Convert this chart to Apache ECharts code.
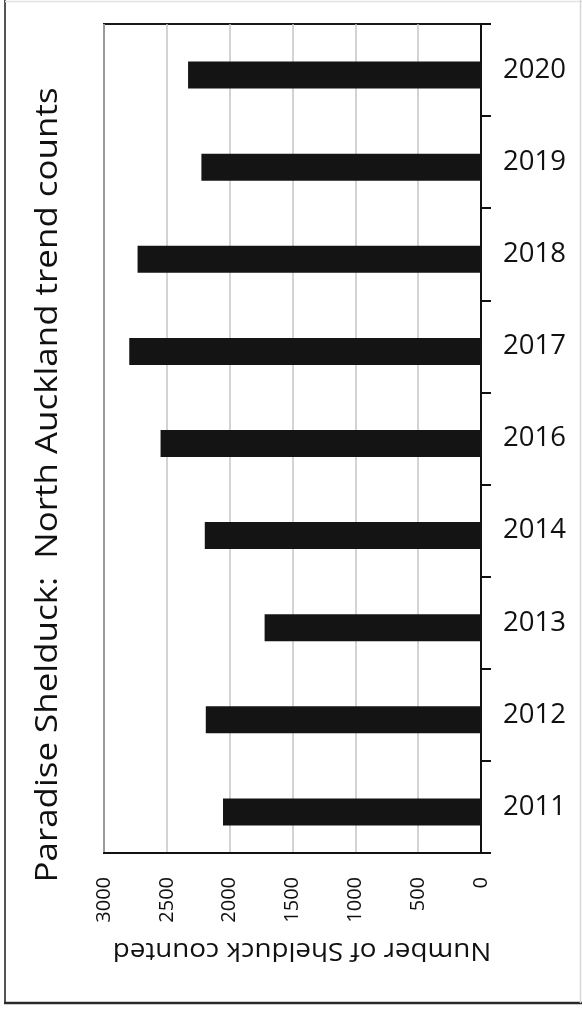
<!DOCTYPE html>
<html>
<head>
<meta charset="utf-8">
<script src="https://cdn.jsdelivr.net/npm/echarts@6/dist/echarts.min.js"></script>
<style>
html,body{margin:0;padding:0;background:#fff;}
#chart{width:582px;height:1016px;}
</style>
</head>
<body>
<div id="chart"></div>
<script>
var years = ['2011', '2012', '2013', '2014', '2016', '2017', '2018', '2019', '2020'];
var counts = [2053, 2190, 1722, 2198, 2550, 2799, 2733, 2225, 2331];
var valueTicks = [0, 500, 1000, 1500, 2000, 2500, 3000];
var titleText = 'Paradise Shelduck:  North Auckland trend counts';
var axisNameText = 'Number of Shelduck counted';

var FONT = '"Open Sans", "Noto Sans", sans-serif';
var chart = echarts.init(document.getElementById('chart'), null, {renderer: 'canvas'});

var option = {
  backgroundColor: '#ffffff',
  animation: false,
  grid: [
    {left: 104, right: 101, top: 24, bottom: 163, show: true, borderColor: '#1a1a1a', borderWidth: 2, backgroundColor: 'transparent', containLabel: false},
    {left: 104, right: 101, top: 29, bottom: 158, show: false, containLabel: false}
  ],
  xAxis: [
    {
      gridIndex: 0, type: 'value', position: 'bottom', inverse: true,
      min: valueTicks[0], max: valueTicks[valueTicks.length - 1], interval: 500,
      axisLine: {show: true, lineStyle: {color: '#111', width: 2}},
      axisTick: {show: false},
      splitLine: {show: true, lineStyle: {color: '#c4c4c4', width: 1.5}},
      axisLabel: {show: true, rotate: 90, margin: 24, fontFamily: FONT, fontSize: 20, color: '#111',
        formatter: function (v) { return String(v); }}
    },
    {
      gridIndex: 1, type: 'value', inverse: true,
      min: valueTicks[0], max: valueTicks[valueTicks.length - 1], interval: 500,
      show: false
    }
  ],
  yAxis: [
    {
      gridIndex: 0, type: 'category', position: 'right', data: years,
      boundaryGap: true,
      axisLine: {show: true, lineStyle: {color: '#111', width: 2}},
      axisTick: {show: true, inside: false, length: 10, lineStyle: {color: '#111', width: 2}},
      axisLabel: {show: true, margin: 22, fontFamily: FONT, fontSize: 27.5, color: '#111', align: 'left'},
      splitLine: {show: false}
    },
    {
      gridIndex: 1, type: 'category', data: years, show: false
    }
  ],
  series: [
    {
      type: 'bar', xAxisIndex: 1, yAxisIndex: 1, data: counts,
      barWidth: 27, itemStyle: {color: '#141414'}
    }
  ],
  graphic: [
    {type: 'line', shape: {x1: 5, y1: 0, x2: 5, y2: 1004}, style: {stroke: '#555', lineWidth: 2}},
    {type: 'line', shape: {x1: 4, y1: 1003, x2: 582, y2: 1003}, style: {stroke: '#2a2a2a', lineWidth: 2.5}},
    {type: 'line', shape: {x1: 5, y1: 1.5, x2: 582, y2: 1.5}, style: {stroke: '#e2e2e2', lineWidth: 1.5}},
    {type: 'line', shape: {x1: 580.5, y1: 0, x2: 580.5, y2: 1003}, style: {stroke: '#d6d6d6', lineWidth: 1.5}},
    {type: 'text', x: 48, y: 485, rotation: Math.PI / 2, scaleX: 1.127,
      style: {text: titleText, fontFamily: FONT, fontSize: 31, fill: '#111', align: 'center', verticalAlign: 'middle'}},
    {type: 'text', x: 302, y: 950, rotation: Math.PI, scaleX: 1.11,
      style: {text: axisNameText, fontFamily: FONT, fontSize: 25, fill: '#111', align: 'center', verticalAlign: 'middle'}}
  ]
};
chart.setOption(option);
</script>
</body>
</html>
